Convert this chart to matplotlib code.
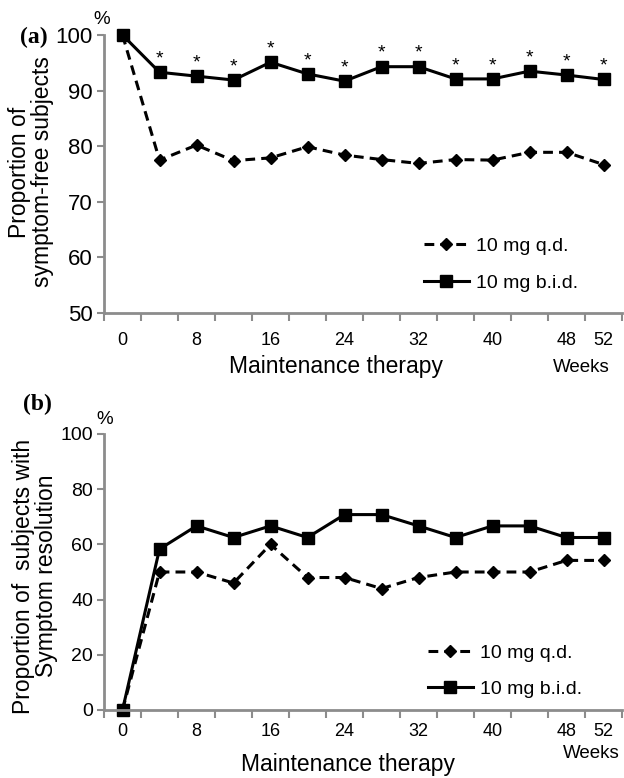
import numpy as np
import matplotlib
matplotlib.use("Agg")
import matplotlib.pyplot as plt

plt.rcParams['font.family'] = ['Liberation Sans', 'DejaVu Sans']

# week labels on the category axis
weeks = [0, 4, 8, 12, 16, 20, 24, 28, 32, 36, 40, 44, 48, 52]
shown = ['0', '8', '16', '24', '32', '40', '48', '52']

# (a) symptom-free subjects, %
a_qd = [100, 77.5, 80.2, 77.4, 77.9, 79.9, 78.4, 77.6, 76.9, 77.6, 77.5, 78.9, 78.9, 76.7]
a_bid = [100, 93.3, 92.6, 91.9, 95.1, 93.0, 91.7, 94.3, 94.3, 92.1, 92.1, 93.5, 92.8, 92.0]
a_star = [False] + [True] * 13

# (b) subjects with symptom resolution, %
b_qd = [0, 50, 50, 46, 60, 48, 48, 44, 48, 50, 50, 50, 54.2, 54.2]
b_bid = [0, 58.3, 66.7, 62.5, 66.7, 62.5, 70.8, 70.8, 66.7, 62.5, 66.7, 66.7, 62.5, 62.5]

W, H = 624, 778
fig = plt.figure(figsize=(W / 100, H / 100), dpi=100)


def box(x0, y0, x1, y1):
    return [x0 / W, 1 - y1 / H, (x1 - x0) / W, (y1 - y0) / H]


def ftext(x, y, s, **kw):
    fig.text(x / W, 1 - y / H, s, **kw)


grey = '#8c8c8c'
xs = np.arange(len(weeks))


def panel(rect, qd, bid, ylo, yhi, ystep, ytick_fs, xpad):
    ax = fig.add_axes(rect)
    ax.plot(xs, qd, color='black', lw=2.2, dashes=(3.2, 2.0), marker='D', ms=6,
            clip_on=False, label='10 mg q.d.')
    ax.plot(xs, bid, color='black', lw=2.2, marker='s', ms=8,
            clip_on=False, label='10 mg b.i.d.')
    ax.set_xlim(-0.5, len(weeks) - 0.5)
    ax.set_ylim(ylo, yhi)
    ax.set_yticks(np.arange(ylo, yhi + 1, ystep))
    ax.tick_params(axis='y', labelsize=ytick_fs, color=grey, length=5, width=1.5, pad=3)
    # tick marks between categories, labels at selected weeks
    ax.set_xticks(np.arange(-0.5, len(weeks)), minor=False)
    ax.set_xticklabels([])
    ax.tick_params(axis='x', color=grey, length=6, width=1.5)
    pos = [weeks.index(int(s)) for s in shown]
    ax.set_xticks(pos, minor=True)
    ax.set_xticklabels(shown, minor=True)
    ax.tick_params(axis='x', which='minor', length=0, labelsize=13, pad=xpad)
    for s in ['top', 'right']:
        ax.spines[s].set_visible(False)
    for s in ['left', 'bottom']:
        ax.spines[s].set_color(grey)
        ax.spines[s].set_linewidth(2)
    return ax


# panel (a)
ax1 = panel(box(104, 35, 622, 313), a_qd, a_bid, 50, 100, 10, 16, 14)
for i, flag in enumerate(a_star):
    if flag:
        ax1.text(xs[i], a_bid[i] + 2.4, '*', ha='center', va='center', fontsize=14)
ax1.legend(loc='upper left', bbox_to_anchor=(424 / W, 1 - 237 / H),
           bbox_transform=fig.transFigure, frameon=False, fontsize=14,
           handlelength=2.3, handletextpad=0.35, labelspacing=1.0,
           borderpad=0, borderaxespad=0, numpoints=1)
ftext(31, 172, 'Proportion of\nsymptom-free subjects', fontsize=16.5, rotation=90,
      ha='center', va='center', linespacing=0.95)
ftext(336, 366, 'Maintenance therapy', fontsize=16.5, ha='center', va='center')
ftext(581, 368, 'Weeks', fontsize=13.5, ha='center', va='center')
ftext(102, 20, '%', fontsize=13.5, ha='center', va='center')
ftext(34, 37, '(a)', fontsize=17, fontweight='bold', family='Liberation Serif',
      ha='center', va='center')

# panel (b)
ax2 = panel(box(104, 434, 622, 710), b_qd, b_bid, 0, 100, 20, 14, 9)
ax2.legend(loc='upper left', bbox_to_anchor=(428 / W, 1 - 644 / H),
           bbox_transform=fig.transFigure, frameon=False, fontsize=14,
           handlelength=2.3, handletextpad=0.35, labelspacing=0.95,
           borderpad=0, borderaxespad=0, numpoints=1)
ftext(35, 576, 'Proportion of  subjects with\nSymptom resolution', fontsize=16.5,
      rotation=90, ha='center', va='center', linespacing=0.95)
ftext(348, 765, 'Maintenance therapy', fontsize=16.5, ha='center', va='center')
ftext(591, 754, 'Weeks', fontsize=13.5, ha='center', va='center')
ftext(105, 420, '%', fontsize=13.5, ha='center', va='center')
ftext(37, 404, '(b)', fontsize=17, fontweight='bold', family='Liberation Serif',
      ha='center', va='center')

fig.savefig('out.png', dpi=100)
